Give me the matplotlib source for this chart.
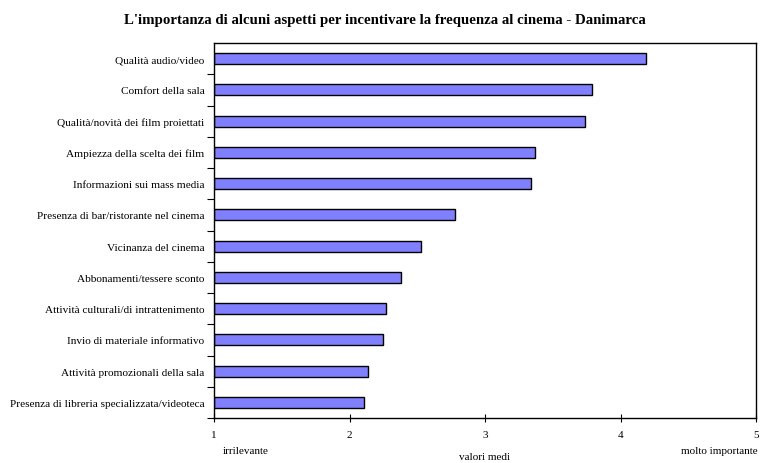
import matplotlib.pyplot as plt

# categories from top to bottom
categorie = ["Qualità audio/video", "Comfort della sala", "Qualità/novità dei film proiettati",
             "Ampiezza della scelta dei film", "Informazioni sui mass media",
             "Presenza di bar/ristorante nel cinema", "Vicinanza del cinema",
             "Abbonamenti/tessere sconto", "Attività culturali/di intrattenimento",
             "Invio di materiale informativo", "Attività promozionali della sala",
             "Presenza di libreria specializzata/videoteca"]
valori = [4.19, 3.79, 3.74, 3.37, 3.34, 2.78, 2.53, 2.38, 2.27, 2.25, 2.14, 2.11]
xticks = [1, 2, 3, 4, 5]

plt.rcParams['font.family'] = ['Liberation Serif', 'DejaVu Serif']

fig = plt.figure(figsize=(7.7, 4.64), dpi=100)
ax = fig.add_axes([0.2779, 0.097, 0.704, 0.808])

n = len(categorie)
pos = [n - 1 - i for i in range(n)]
ax.barh(pos, [v - 1 for v in valori], left=1, height=0.35,
        color="#8080FF", edgecolor="black", linewidth=1)

ax.set_xlim(1, 5)
ax.set_ylim(-0.5, n - 0.5)
ax.set_xticks(xticks)
ax.set_xticklabels([str(t) for t in xticks], fontsize=8)
# separator ticks between categories (plus bottom edge)
ax.set_yticks([p + 0.5 for p in range(n - 1)] + [-0.5])
ax.set_yticklabels([])
ax.set_yticks(pos, minor=True)
ax.set_yticklabels(categorie, minor=True, fontsize=8.1)
ax.tick_params(axis='y', which='minor', length=0, pad=7)
ax.tick_params(axis='y', which='major', length=5, direction='out')
ax.tick_params(axis='x', length=6, direction='inout', pad=6)
for s in ax.spines.values():
    s.set_linewidth(1)

fig.text(0.5, 0.955, "L'importanza di alcuni aspetti per incentivare la frequenza al cinema - Danimarca",
         ha='center', va='center', fontsize=10.7, fontweight='bold')
fig.text(223 / 770, 1 - 452 / 464, "irrilevante", ha='left', va='center', fontsize=8)
fig.text(485 / 770, 1 - 458 / 464, "valori medi", ha='center', va='center', fontsize=8)
fig.text(758 / 770, 1 - 452 / 464, "molto importante", ha='right', va='center', fontsize=8)

plt.savefig("out.png", dpi=100)
